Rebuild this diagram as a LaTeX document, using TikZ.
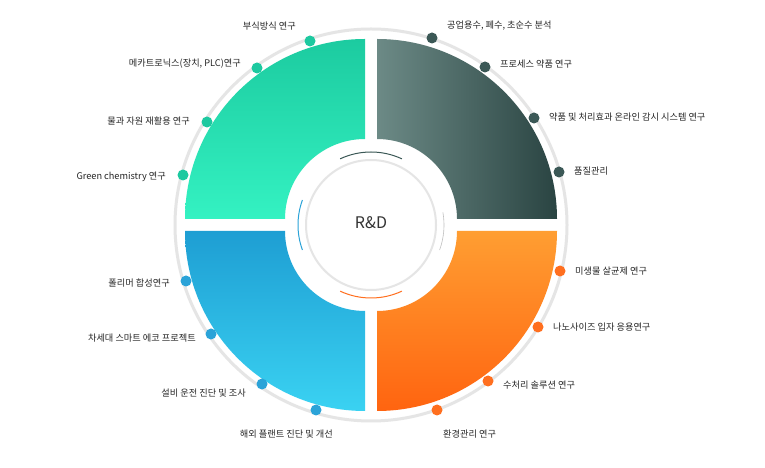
\documentclass[tikz,border=0pt]{standalone}
\usepackage{fontspec}
\setmainfont{Noto Sans CJK KR}
\usetikzlibrary{calc}
\begin{document}
\begin{tikzpicture}[x=1pt,y=1pt,
  lbl/.style={font=\fontsize{9.2}{11}\selectfont, text=black!85, inner sep=0pt},
  dotT/.style={circle, fill=tealD, minimum size=11pt, inner sep=0pt},
  dotG/.style={circle, fill=greenD, minimum size=11pt, inner sep=0pt},
  dotO/.style={circle, fill=orangeD, minimum size=11pt, inner sep=0pt},
  dotB/.style={circle, fill=blueD, minimum size=11pt, inner sep=0pt}]
\definecolor{tealD}{HTML}{1DC9A0}
\definecolor{greenD}{HTML}{3B5856}
\definecolor{orangeD}{HTML}{FF6F1F}
\definecolor{blueD}{HTML}{2BA3D8}
\useasboundingbox (0,0) rectangle (765,468);
\fill[white] (0,0) rectangle (765,468);
\coordinate (C) at (371,243);
\coordinate (CTL) at (365,249);
\coordinate (CTR) at (377,249);
\coordinate (CBR) at (377,237);
\coordinate (CBL) at (365,237);
\draw[black!10, line width=3pt] (C) circle[radius=196];
% quadrants
\shade[bottom color={rgb,255:red,52;green,242;blue,194}, top color={rgb,255:red,28;green,203;blue,160}]
  ($(CTL)+(180:180)$) arc[start angle=180,end angle=90,radius=180] -- ($(CTL)+(90:80)$) arc[start angle=90,end angle=180,radius=80] -- cycle;
\shade[left color={rgb,255:red,108;green,138;blue,134}, right color={rgb,255:red,42;green,68;blue,66}]
  ($(CTR)+(90:180)$) arc[start angle=90,end angle=0,radius=180] -- ($(CTR)+(0:80)$) arc[start angle=0,end angle=90,radius=80] -- cycle;
\shade[top color={rgb,255:red,255;green,158;blue,50}, bottom color={rgb,255:red,255;green,100;blue,16}]
  ($(CBR)+(0:180)$) arc[start angle=0,end angle=-90,radius=180] -- ($(CBR)+(-90:80)$) arc[start angle=-90,end angle=0,radius=80] -- cycle;
\shade[top color={rgb,255:red,30;green,158;blue,211}, bottom color={rgb,255:red,58;green,210;blue,242}]
  ($(CBL)+(-90:180)$) arc[start angle=-90,end angle=-180,radius=180] -- ($(CBL)+(180:80)$) arc[start angle=180,end angle=270,radius=80] -- cycle;
% center
\fill[white] (C) circle[radius=84];
\draw[black!10, line width=2pt, fill=white] (C) circle[radius=65];
\draw[greenD, line width=1pt] ($(C)+(65:73)$) arc[start angle=65,end angle=115,radius=73];
\draw[blueD, line width=1pt] ($(C)+(160:73)$) arc[start angle=160,end angle=200,radius=73];
\draw[orangeD, line width=1pt] ($(C)+(245:73)$) arc[start angle=245,end angle=295,radius=73];
\draw[black!25, line width=0.6pt] ($(C)+(-20:73)$) arc[start angle=-20,end angle=10,radius=73];
\node[font=\fontsize{16}{19}\selectfont, text=black!80] (rd) at (371,245) {R\&D};
% left-top
\node[dotT] (d1) at (310,427) {}; \node[lbl, anchor=east] (l1) at (296,442) {부식방식 연구};
\node[dotT] (d2) at (257,400) {}; \node[lbl, anchor=east] (l2) at (241,404) {메카트로닉스(장치, PLC)연구};
\node[dotT] (d3) at (207,346) {}; \node[lbl, anchor=east] (l3) at (190,347) {물과 자원 재활용 연구};
\node[dotT] (d4) at (183,293) {}; \node[lbl, anchor=east] (l4) at (166,291) {Green chemistry 연구};
% right-top
\node[dotG] (d5) at (432,430) {}; \node[lbl, anchor=west] (l5) at (447,442) {공업용수, 폐수, 초순수 분석};
\node[dotG] (d6) at (485,401) {}; \node[lbl, anchor=west] (l6) at (500,404) {프로세스 약품 연구};
\node[dotG] (d7) at (534,350) {}; \node[lbl, anchor=west] (l7) at (549,351) {약품 및 처리효과 온라인 감시 시스템 연구};
\node[dotG] (d8) at (559,296) {}; \node[lbl, anchor=west] (l8) at (574,297) {품질관리};
% right-bottom
\node[dotO] (d9) at (560,197) {}; \node[lbl, anchor=west] (l9) at (575,197) {미생물 살균제 연구};
\node[dotO] (d10) at (538,141) {}; \node[lbl, anchor=west] (l10) at (553,141) {나노사이즈 입자 응용연구};
\node[dotO] (d11) at (488,87) {}; \node[lbl, anchor=west] (l11) at (503,83) {수처리 솔루션 연구};
\node[dotO] (d12) at (437,58) {}; \node[lbl, anchor=west] (l12) at (443,34) {환경관리 연구};
% left-bottom
\node[dotB] (d13) at (186,187) {}; \node[lbl, anchor=east] (l13) at (170,185) {폴리머 합성연구};
\node[dotB] (d14) at (211,134) {}; \node[lbl, anchor=east] (l14) at (196,130) {차세대 스마트 에코 프로젝트};
\node[dotB] (d15) at (262,84) {}; \node[lbl, anchor=east] (l15) at (246,75) {설비 운전 진단 및 조사};
\node[dotB] (d16) at (316,58) {}; \node[lbl, anchor=east] (l16) at (333,34) {해외 플랜트 진단 및 개선};
\end{tikzpicture}
\end{document}
